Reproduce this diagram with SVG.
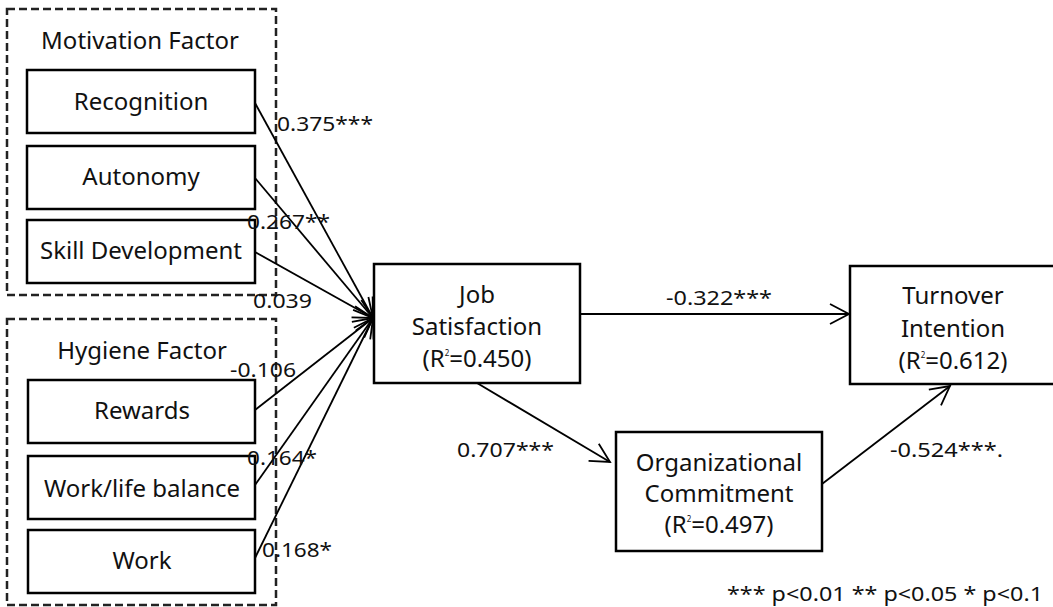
<svg xmlns="http://www.w3.org/2000/svg" width="1053" height="607" viewBox="0 0 1053 607">
<defs>
<style>
.box{fill:#fff;stroke:#000;stroke-width:2.5}
.grp{fill:none;stroke:#222;stroke-width:2.5;stroke-dasharray:8 4}
.t{font-family:"Noto Sans","Open Sans",sans-serif;font-size:24px;fill:#111;text-anchor:middle}
.l{font-family:"Noto Sans","Open Sans",sans-serif;font-size:20px;fill:#111}
.c{fill:none;stroke:#000;stroke-width:1.8}
.sup{font-size:8px}
</style>
<marker id="ah" markerUnits="userSpaceOnUse" markerWidth="40" markerHeight="40" refX="0" refY="0" orient="auto" overflow="visible">
<path d="M-19,-10 L0,0 L-19,10" fill="none" stroke="#000" stroke-width="1.8"/>
</marker>
</defs>
<rect width="1053" height="607" fill="#fff"/>
<g id="motivation-factor">
<rect class="grp" x="7" y="9" width="269" height="286"/>
<text class="t" x="140" y="49">Motivation Factor</text>
</g>
<g id="hygiene-factor">
<rect class="grp" x="7" y="319" width="269" height="286"/>
<text class="t" x="142" y="359">Hygiene Factor</text>
</g>
<g id="recognition">
<rect class="box" x="27" y="70" width="228" height="63"/>
<text class="t" x="141" y="110">Recognition</text>
</g>
<g id="autonomy">
<rect class="box" x="27" y="146" width="228" height="63"/>
<text class="t" x="141" y="185">Autonomy</text>
</g>
<g id="skill-development">
<rect class="box" x="27" y="220" width="228" height="63"/>
<text class="t" x="141" y="259">Skill Development</text>
</g>
<g id="rewards">
<rect class="box" x="28" y="380" width="227" height="63"/>
<text class="t" x="142" y="419">Rewards</text>
</g>
<g id="work-life-balance">
<rect class="box" x="28" y="456" width="227" height="63"/>
<text class="t" x="142" y="497">Work/life balance</text>
</g>
<g id="work">
<rect class="box" x="28" y="530" width="227" height="63"/>
<text class="t" x="142" y="569">Work</text>
</g>
<g id="job-satisfaction">
<rect class="box" x="374" y="264" width="206" height="119"/>
<text class="t" x="477" y="303">Job</text>
<text class="t" x="477" y="335">Satisfaction</text>
<text class="t" x="477" y="367">(R<tspan class="sup" dy="-11">2</tspan><tspan dy="11">=0.450)</tspan></text>
</g>
<g id="turnover-intention">
<rect class="box" x="850" y="266" width="210" height="118"/>
<text class="t" x="953" y="304">Turnover</text>
<text class="t" x="953" y="337">Intention</text>
<text class="t" x="953" y="369">(R<tspan class="sup" dy="-11">2</tspan><tspan dy="11">=0.612)</tspan></text>
</g>
<g id="organizational-commitment">
<rect class="box" x="616" y="432" width="206" height="119"/>
<text class="t" x="719" y="471">Organizational</text>
<text class="t" x="719" y="502">Commitment</text>
<text class="t" x="719" y="533">(R<tspan class="sup" dy="-11">2</tspan><tspan dy="11">=0.497)</tspan></text>
</g>
<g id="connectors">
<line class="c" x1="255" y1="103" x2="373" y2="318" marker-end="url(#ah)"/>
<line class="c" x1="255" y1="178" x2="373" y2="318" marker-end="url(#ah)"/>
<line class="c" x1="255" y1="252" x2="373" y2="318" marker-end="url(#ah)"/>
<line class="c" x1="255" y1="410" x2="373" y2="318" marker-end="url(#ah)"/>
<line class="c" x1="255" y1="485" x2="373" y2="318" marker-end="url(#ah)"/>
<line class="c" x1="255" y1="558" x2="373" y2="318" marker-end="url(#ah)"/>
<line class="c" x1="580" y1="314" x2="849" y2="314" marker-end="url(#ah)"/>
<line class="c" x1="477" y1="383" x2="610" y2="462" marker-end="url(#ah)"/>
<line class="c" x1="822" y1="484" x2="950" y2="386" marker-end="url(#ah)"/>
</g>
<g id="labels">
<text class="l" x="277" y="131" textLength="96" lengthAdjust="spacingAndGlyphs">0.375***</text>
<text class="l" x="247" y="229" textLength="83" lengthAdjust="spacingAndGlyphs">0.267**</text>
<text class="l" x="253" y="308" textLength="59" lengthAdjust="spacingAndGlyphs">0.039</text>
<text class="l" x="230" y="377" textLength="66" lengthAdjust="spacingAndGlyphs">-0.106</text>
<text class="l" x="247" y="465" textLength="70" lengthAdjust="spacingAndGlyphs">0.164*</text>
<text class="l" x="262" y="557" textLength="70" lengthAdjust="spacingAndGlyphs">0.168*</text>
<text class="l" x="666" y="305" textLength="106" lengthAdjust="spacingAndGlyphs">-0.322***</text>
<text class="l" x="457" y="457" textLength="97" lengthAdjust="spacingAndGlyphs">0.707***</text>
<text class="l" x="890" y="457" textLength="113" lengthAdjust="spacingAndGlyphs">-0.524***.</text>
<text class="l" x="727" y="601" textLength="316" lengthAdjust="spacingAndGlyphs">*** p&lt;0.01 ** p&lt;0.05 * p&lt;0.1</text>
</g>
</svg>
